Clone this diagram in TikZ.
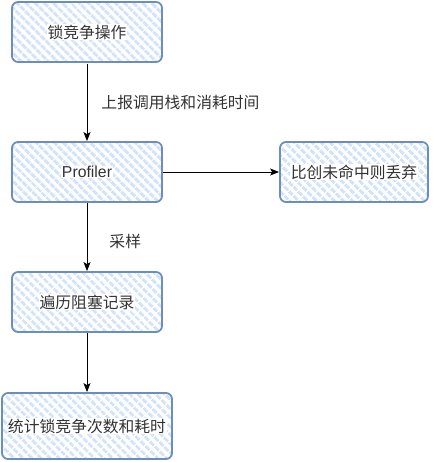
\documentclass[tikz,border=0pt]{standalone}
\usepackage{fontspec}
\setmainfont{Liberation Sans}
\newfontfamily\cjk{Noto Sans CJK SC}
\usetikzlibrary{patterns.meta,arrows.meta}
\definecolor{hatch}{HTML}{D2E3FA}
\definecolor{edge}{HTML}{6C8EBF}
\definecolor{txt}{HTML}{333333}
\tikzset{
  box/.style={draw=edge, line width=1.8pt, rounded corners=6pt,
    pattern={Lines[angle=-45,distance=6.5pt,line width=3.4pt]}, pattern color=hatch,
    minimum width=150pt, minimum height=60pt, inner sep=0pt},
  lbl/.style={fill=white, text=txt, inner sep=0.5pt, font=\fontsize{15.8pt}{17pt}\selectfont},
  elbl/.style={text=txt, inner sep=0pt, font=\fontsize{15.8pt}{17pt}\selectfont},
  conn/.style={draw=black, line width=0.9pt, -{Stealth[length=9pt,width=7pt,inset=2pt]}}
}
\begin{document}
\begin{tikzpicture}[x=1pt,y=-1pt]
\useasboundingbox (0,0) rectangle (432,462);
\node[box] (a) at (87,32) {};
\node[lbl] at (a.center) {\cjk 锁竞争操作};
\node[box] (b) at (87,172) {};
\node[lbl] at (b.center) {Profiler};
\node[box, minimum width=148pt] (c) at (354,172) {};
\node[lbl] at (c.center) {\cjk 比创未命中则丢弃};
\node[box] (d) at (87,302) {};
\node[lbl] at (d.center) {\cjk 遍历阻塞记录};
\node[box, minimum width=170pt, minimum height=66pt] (e) at (87,426) {};
\node[lbl] at (e.center) {\cjk 统计锁竞争次数和耗时};
\draw[conn] (a.south) -- node[elbl, right=14pt, pos=0.5] {\cjk 上报调用栈和消耗时间} (b.north);
\draw[conn] (b.east) -- (c.west);
\draw[conn] (b.south) -- node[elbl, right=22pt, pos=0.57] {\cjk 采样} (d.north);
\draw[conn] (d.south) -- (e.north);
\end{tikzpicture}
\end{document}
